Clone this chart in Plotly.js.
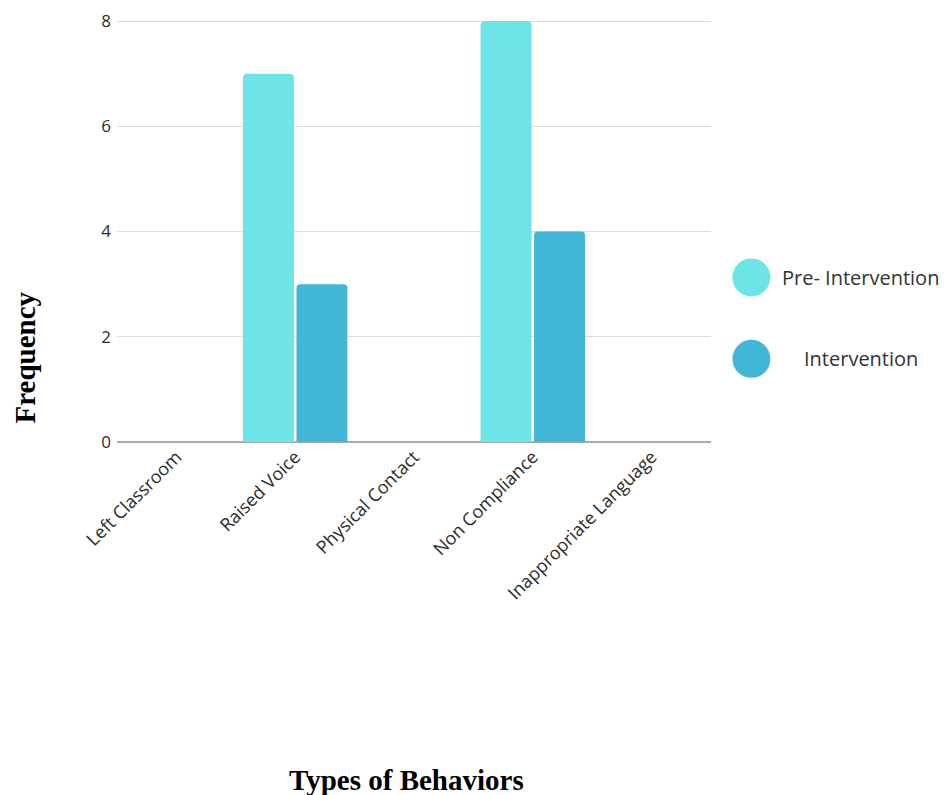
<!DOCTYPE html>
<html>
<head>
<meta charset="utf-8">
<script src="https://cdn.plot.ly/plotly-3.0.1.min.js"></script>
<style>
  html, body { margin: 0; padding: 0; background: #ffffff; }
  #chart { width: 946px; height: 795px; }
</style>
</head>
<body>
<div id="chart"></div>
<script>
// Behaviour categories and observed frequencies per phase
const behaviors = ["Left Classroom", "Raised Voice", "Physical Contact", "Non Compliance", "Inappropriate Language"];
const preIntervention = [0, 7, 0, 8, 0];
const intervention = [0, 3, 0, 4, 0];
const seriesNames = ["Pre- Intervention", "Intervention"];
const seriesColors = ["#6ce4e8", "#42b6d6"];
const yTicks = [0, 2, 4, 6, 8];

const traces = [preIntervention, intervention].map((vals, i) => ({
  type: "bar",
  x: behaviors,
  y: vals,
  name: seriesNames[i],
  marker: { color: seriesColors[i], line: { width: 0 } },
  showlegend: false,
  hoverinfo: "x+y+name"
}));

const serifBold = { family: "Liberation Serif, Times New Roman, serif", size: 29, color: "#000000", weight: "bold" };

// Circular legend swatches with labels on the right
const legendY = [0.39, 0.197];
const shapes = seriesColors.map((c, i) => ({
  type: "circle",
  xref: "paper", yref: "paper",
  xsizemode: "pixel", ysizemode: "pixel",
  xanchor: 1.068, yanchor: legendY[i],
  x0: -19, x1: 19, y0: -19, y1: 19,
  fillcolor: c, line: { width: 0 }
}));
const annotations = seriesNames.map((n, i) => ({
  xref: "paper", yref: "paper",
  x: 1.252, y: legendY[i],
  text: n, showarrow: false,
  xanchor: "center", yanchor: "middle",
  font: { family: "Open Sans, sans-serif", size: 20, color: "#333333" }
}));

// Axis titles
annotations.push({
  xref: "paper", yref: "paper",
  x: 0.487, y: -0.802,
  text: "Types of Behaviors", showarrow: false,
  xanchor: "center", yanchor: "middle",
  font: serifBold
});
annotations.push({
  xref: "paper", yref: "paper",
  x: -0.155, y: 0.2,
  text: "Frequency", showarrow: false, textangle: -90,
  xanchor: "center", yanchor: "middle",
  font: serifBold
});

const layout = {
  width: 946, height: 795,
  margin: { l: 117, r: 235, t: 20, b: 353 },
  paper_bgcolor: "#ffffff", plot_bgcolor: "#ffffff",
  barmode: "group",
  bargap: 0.1,
  bargroupgap: 0.047,
  barcornerradius: 4,
  font: { family: "Open Sans, sans-serif", color: "#2b2b2b" },
  xaxis: {
    type: "category",
    tickangle: -45,
    tickfont: { size: 18, color: "#2b2b2b" },
    showgrid: false,
    showline: false,
    ticks: "",
    fixedrange: true,
    automargin: false
  },
  yaxis: {
    range: [0, 8.02],
    tickvals: yTicks,
    tickfont: { size: 17, color: "#2b2b2b" },
    gridcolor: "#dcdcdc",
    gridwidth: 1,
    zeroline: true,
    zerolinecolor: "#ababab",
    zerolinewidth: 2,
    showline: false,
    ticks: "",
    ticklabelstandoff: 5,
    fixedrange: true,
    automargin: false
  },
  shapes: shapes,
  annotations: annotations
};

Plotly.newPlot("chart", traces, layout, { displayModeBar: false, responsive: false });
</script>
</body>
</html>
